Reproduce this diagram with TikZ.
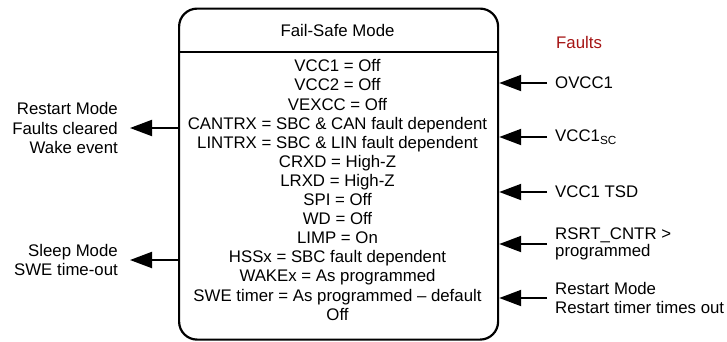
\documentclass[tikz,border=0pt]{standalone}
\usepackage{fontspec}
\setmainfont{Liberation Sans}
\usetikzlibrary{arrows.meta}
\definecolor{faultred}{RGB}{165,20,20}
\begin{document}
\begin{tikzpicture}[x=1pt,y=-1pt,
  every node/.style={font=\fontsize{16.8}{19.1}\selectfont, inner sep=0pt},
  arr/.style={line width=2pt, -{Triangle[length=22pt,width=16pt]}}]
\useasboundingbox (0,0) rectangle (727,341);
\node[draw, line width=2.2pt, rounded corners=18pt, minimum width=319pt, minimum height=331pt, anchor=north west] (box) at (178,7.5) {};
\coordinate (hdr) at (0,52);
\draw[line width=2pt] (box.west |- hdr) -- (box.east |- hdr);
\node (title) at (337.5,30) {Fail-Safe Mode};
\node[align=center, anchor=north] (body) at (337.5,59.5) {VCC1 = Off\\VCC2 = Off\\VEXCC = Off\\CANTRX = SBC \& CAN fault dependent\\LINTRX = SBC \& LIN fault dependent\\CRXD = High-Z\\LRXD = High-Z\\SPI = Off\\WD = Off\\LIMP = On\\HSSx = SBC fault dependent\\WAKEx = As programmed\\SWE timer = As programmed – default\\Off};
% left
\node[align=right, anchor=east] (rm) at (118,128) {Restart Mode\\Faults cleared\\Wake event};
\node[align=right, anchor=east] (sm) at (118,260) {Sleep Mode\\SWE time-out};
\draw[arr] (rm.east -| box.west) -- ([xshift=12pt]rm.east);
\draw[arr] (sm.east -| box.west) -- ([xshift=12pt]sm.east);
% right
\node[text=faultred, anchor=west] (faults) at (556,42) {Faults};
\node[anchor=west] (ov) at (555,83) {OVCC1};
\node[anchor=west] (sc) at (555,137) {VCC1\textsubscript{SC}};
\node[anchor=west] (tsd) at (555,192) {VCC1 TSD};
\node[anchor=west, align=left, font=\fontsize{16.8}{15}\selectfont] (rsrt) at (555,244) {RSRT\_CNTR >\\programmed};
\node[anchor=west, align=left] (rr) at (555,298) {Restart Mode\\Restart timer times out};
\foreach \n in {ov,sc,tsd,rsrt,rr}
  \draw[arr] ([xshift=-8pt]\n.west) -- (\n.west -| box.east);
\end{tikzpicture}
\end{document}
